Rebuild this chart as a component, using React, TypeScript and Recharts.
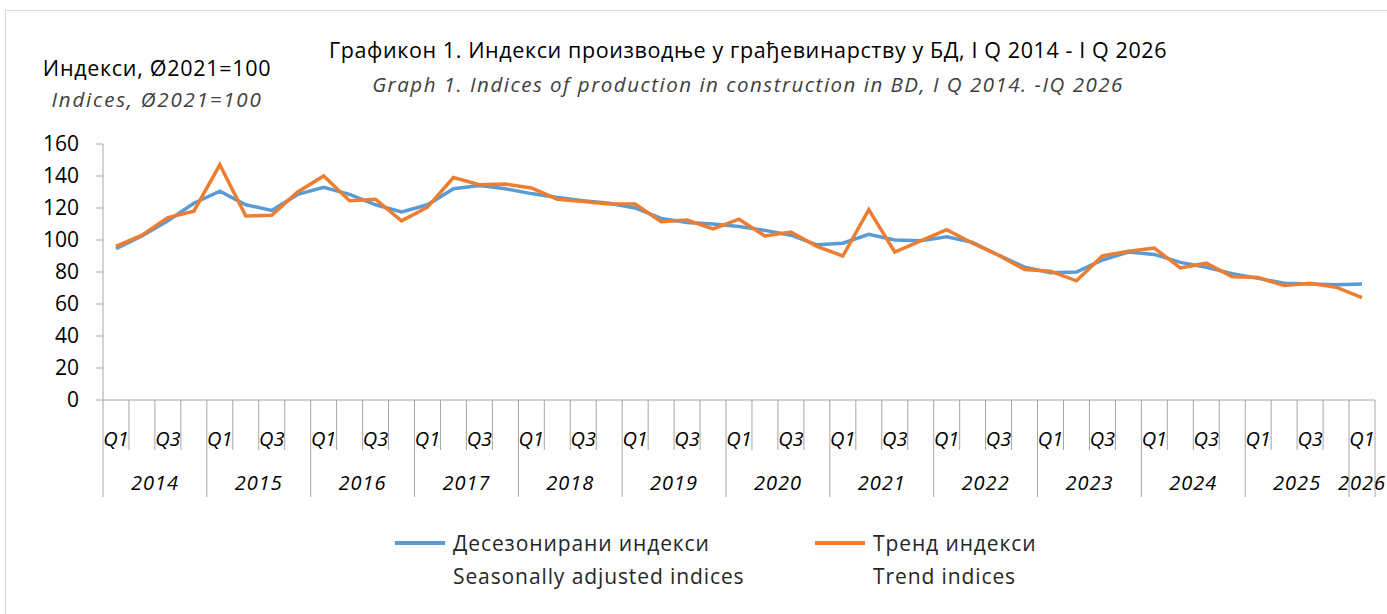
import { LineChart, Line, XAxis, YAxis } from 'recharts'

const YEARS = ['2014', '2015', '2016', '2017', '2018', '2019', '2020', '2021', '2022', '2023', '2024', '2025', '2026']
const QUARTERS = ['Q1', 'Q2', 'Q3', 'Q4']
const CATEGORIES = YEARS.flatMap((y) => (y === '2026' ? [`${y} Q1`] : QUARTERS.map((q) => `${y} ${q}`)))

// Десезонирани индекси / Seasonally adjusted indices
const SEASONALLY_ADJUSTED = [
  94.5, 102.5, 112, 123, 130.5, 122, 118.5, 128.5, 133, 128.5, 122, 117.5, 122, 132, 134, 132,
  129, 126.5, 124.5, 123, 120, 113.5, 111, 110, 108.5, 106, 103, 97, 98, 103.5, 100, 99.5,
  102, 98.5, 90.5, 83, 79.5, 80, 87.5, 92.5, 91, 86, 83, 79, 76, 73, 72.5, 72, 72.5,
]

// Тренд индекси / Trend indices
const TREND = [
  96, 103, 114, 118, 147, 115, 115.5, 130, 140, 124.5, 125.5, 112, 120.5, 139, 134.5, 135,
  132.5, 125.5, 124, 122.5, 122.5, 111.5, 112.5, 107, 113, 102.5, 105, 96, 90, 119, 92.5, 99.5,
  106.5, 98, 90.5, 81.5, 80.5, 74.5, 90, 93, 95, 82.5, 85.5, 77, 76.5, 71.5, 73, 70.5, 64,
]

const Y_TICKS = [0, 20, 40, 60, 80, 100, 120, 140, 160]

const SERIES = [
  { key: 'sa', name: 'Десезонирани индекси', nameEn: 'Seasonally adjusted indices', color: '#5b9bd5', legendLeft: 395 },
  { key: 'trend', name: 'Тренд индекси', nameEn: 'Trend indices', color: '#ed7d31', legendLeft: 815 },
]

const data = CATEGORIES.map((period, i) => ({
  period,
  sa: SEASONALLY_ADJUSTED[i],
  trend: TREND[i],
}))

const W = 1387
const H = 614
const MARGIN = { top: 144, right: 12, bottom: 114, left: 43 }
const Y_AXIS_W = 60
const X_AXIS_H = 100
const PLOT_LEFT = MARGIN.left + Y_AXIS_W
const PLOT_W = W - PLOT_LEFT - MARGIN.right
const AXIS_Y = H - MARGIN.bottom - X_AXIS_H
const BAND = PLOT_W / CATEGORIES.length

const FONT = '"Open Sans", Lato, sans-serif'
const AXIS_GREY = '#a6a6a6'

function QuarterTick(props: any) {
  const { x, index } = props
  const [year, q] = CATEGORIES[index].split(' ')
  const isYearStart = q === 'Q1'
  const isLast = index === CATEGORIES.length - 1
  const singleQuarterYear = isLast && isYearStart
  const showQ = q === 'Q1' || q === 'Q3'
  const showYear = q === 'Q2' || singleQuarterYear
  const yearX = singleQuarterYear ? x : x + BAND / 2
  return (
    <g>
      <line
        x1={x - BAND / 2}
        x2={x - BAND / 2}
        y1={AXIS_Y}
        y2={AXIS_Y + (isYearStart ? 97 : 50)}
        stroke={AXIS_GREY}
      />
      {isLast && (
        <line x1={x + BAND / 2} x2={x + BAND / 2} y1={AXIS_Y} y2={AXIS_Y + 97} stroke={AXIS_GREY} />
      )}
      {showQ && (
        <text
          x={x}
          y={AXIS_Y + 38}
          textAnchor="middle"
          dominantBaseline="central"
          fontSize={20}
          fontStyle="italic"
          fontFamily={FONT}
          fill="#000"
        >
          {q}
        </text>
      )}
      {showYear && (
        <text
          x={yearX}
          y={AXIS_Y + 82}
          textAnchor="middle"
          dominantBaseline="central"
          fontSize={20}
          letterSpacing={1}
          fontStyle="italic"
          fontFamily={FONT}
          fill="#000"
        >
          {year}
        </text>
      )}
    </g>
  )
}

function ChartLegend() {
  const line = {
    position: 'absolute' as const,
    whiteSpace: 'nowrap' as const,
    fontSize: 21,
    letterSpacing: 0.9,
    lineHeight: '30px',
  }
  return (
    <div style={{ position: 'absolute', left: 0, top: 520, width: W, height: 80, fontFamily: FONT, color: '#262626' }}>
      {SERIES.map((s) => (
        <div key={s.key} style={{ position: 'absolute', left: s.legendLeft, top: 0 }}>
          <div style={{ position: 'absolute', left: 0, top: 21, width: 50, height: 3.5, background: s.color }} />
          <div style={{ ...line, left: 58, top: 8 }}>{s.name}</div>
          <div style={{ ...line, left: 58, top: 41 }}>{s.nameEn}</div>
        </div>
      ))}
    </div>
  )
}

const textBlock = (
  top: number,
  left: number,
  width: number,
  size: number,
  spacing: number,
  italic: boolean,
  color: string,
) => ({
  position: 'absolute' as const,
  left,
  top,
  width,
  textAlign: 'center' as const,
  fontFamily: FONT,
  fontSize: size,
  letterSpacing: spacing,
  fontStyle: italic ? 'italic' : 'normal',
  lineHeight: '30px',
  color,
  whiteSpace: 'nowrap' as const,
})

export default function App() {
  return (
    <div style={{ position: 'absolute', left: 0, top: 0, width: W, height: H, overflow: 'hidden', background: '#fff' }}>
      <div
        style={{
          position: 'absolute',
          left: 5,
          top: 10,
          width: W + 20,
          height: H + 20,
          border: '1px solid #d9d9d9',
        }}
      />
      <div style={textBlock(35, 148, 1200, 21.5, 0.6, false, '#000')}>
        Графикон 1. Индекси производње у грађевинарству у БД, I Q 2014 - I Q 2026
      </div>
      <div style={textBlock(69, 148, 1200, 20.5, 1.5, true, '#404040')}>
        Graph 1. Indices of production in construction in BD, I Q 2014. -IQ 2026
      </div>
      <div style={textBlock(53, 7, 300, 21.5, 0.7, false, '#000')}>Индекси, Ø2021=100</div>
      <div style={textBlock(84, 7, 300, 20.5, 1.8, true, '#404040')}>Indices, Ø2021=100</div>
      <div style={{ position: 'absolute', left: 0, top: 0 }}>
        <LineChart width={W} height={H} data={data} margin={MARGIN}>
          <XAxis
            dataKey="period"
            interval={0}
            height={X_AXIS_H}
            padding={{ left: BAND / 2, right: BAND / 2 }}
            axisLine={{ stroke: AXIS_GREY }}
            tickLine={false}
            tick={<QuarterTick />}
          />
          <YAxis
            width={Y_AXIS_W}
            domain={[0, 160]}
            ticks={Y_TICKS}
            interval={0}
            axisLine={{ stroke: AXIS_GREY }}
            tickLine={{ stroke: AXIS_GREY }}
            tickSize={7}
            tickMargin={17}
            tick={{ fontSize: 21, fontFamily: FONT, fill: '#000' }}
          />
          {SERIES.map((s) => (
            <Line
              key={s.key}
              type="linear"
              dataKey={s.key}
              name={s.name}
              stroke={s.color}
              strokeWidth={3.5}
              dot={false}
              isAnimationActive={false}
            />
          ))}
        </LineChart>
      </div>
      <ChartLegend />
    </div>
  )
}
